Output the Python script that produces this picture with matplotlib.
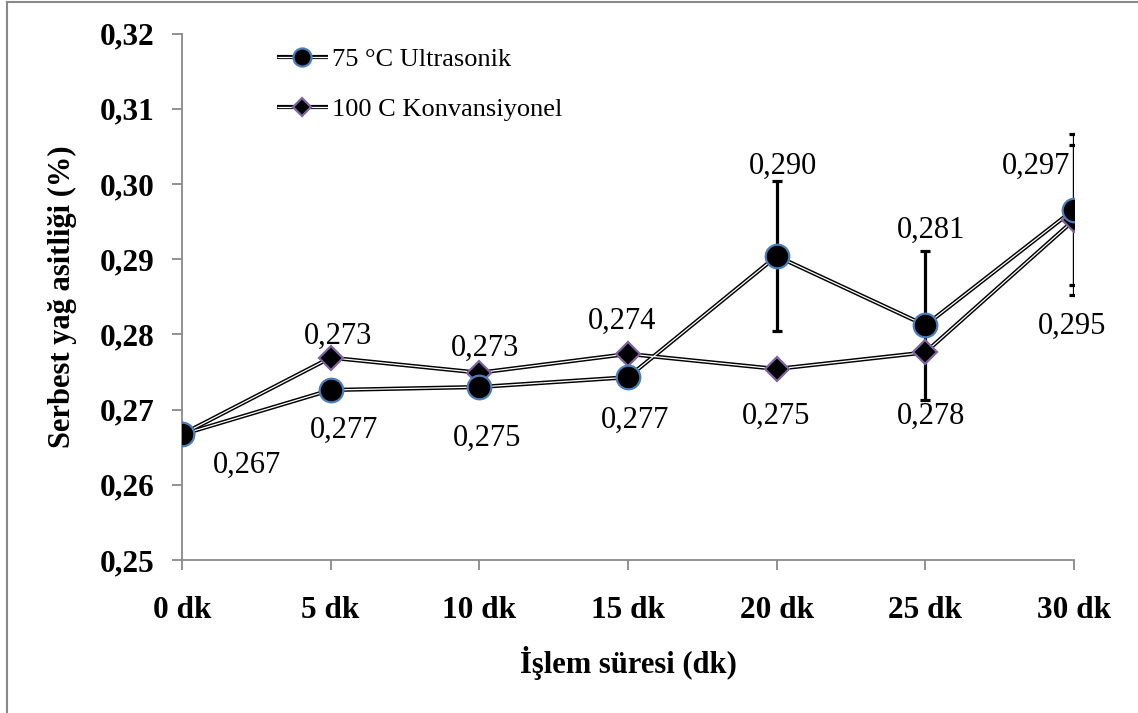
import matplotlib
matplotlib.use('Agg')
import matplotlib.pyplot as plt
from matplotlib.lines import Line2D
from matplotlib.ticker import FuncFormatter, MultipleLocator

plt.rcParams['font.family'] = ['Liberation Serif', 'DejaVu Serif']

# serbest yag asitligi (%) - isleme suresine gore
sureler = ['0 dk', '5 dk', '10 dk', '15 dk', '20 dk', '25 dk', '30 dk']
ultrasonik = [0.2667, 0.2726, 0.2730, 0.2743, 0.2904, 0.2812, 0.2966]
konvansiyonel = [0.2667, 0.2769, 0.2749, 0.2774, 0.2754, 0.2776, 0.2952]
ultrasonik_hata = [0, 0, 0, 0, 0.0100, 0.0099, 0.0100]
konvansiyonel_hata = [0, 0, 0, 0, 0, 0, 0.0100]

# etiket kaydirmalari (piksel)
ust_kayma = [(65, -31), (7, 54), (6, 39), (-6, 56), (6, 90), (6, 95), (-38, 43)]
alt_kayma = [None, (13, -73), (8, -66), (7, -66), (-1, -47), (6, -64), (-2, -106)]

MAVI = '#4A7EBB'
MOR = '#8064A2'
GRI = '#898989'

fig = plt.figure(figsize=(11.38, 7.13), dpi=100)
W, H = 1138, 713
ax = fig.add_axes([182 / W, 1 - 560 / H, (1074 - 182) / W, (560 - 33.5) / H])
x = list(range(len(sureler)))


def seri_ciz(vals, hata, marker, ms, mec):
    idx = [i for i, e in enumerate(hata) if e > 0]
    if idx:
        ax.errorbar(idx, [vals[i] for i in idx], yerr=[hata[i] for i in idx],
                    fmt='none', ecolor='k', elinewidth=2.3, capsize=3.6,
                    capthick=2.3, zorder=2)
    ax.plot(x, vals, color='k', lw=3.0, zorder=3, solid_capstyle='butt')
    ax.plot(x, vals, color='w', lw=0.9, zorder=4, solid_capstyle='butt')
    ax.plot(x, vals, ls='none', marker=marker, ms=ms, mfc='k', mec=mec,
            mew=1.6, zorder=5)


seri_ciz(konvansiyonel, konvansiyonel_hata, 'D', 12, MOR)
seri_ciz(ultrasonik, ultrasonik_hata, 'o', 17, MAVI)


def etiket(v):
    return f'{v:.3f}'.replace('.', ',')


for i, v in enumerate(ultrasonik):
    ax.annotate(etiket(v), (i, v), xytext=ust_kayma[i], textcoords='offset pixels',
                ha='center', va='center', fontsize=22, zorder=6)
for i, v in enumerate(konvansiyonel):
    if alt_kayma[i] is None:
        continue
    ax.annotate(etiket(v), (i, v), xytext=alt_kayma[i], textcoords='offset pixels',
                ha='center', va='center', fontsize=22, zorder=6)

ax.set_xlim(0, len(sureler) - 1)
ax.set_ylim(0.25, 0.32)
ax.set_xticks(x)
ax.set_xticklabels(sureler, fontsize=22.5, fontweight='bold')
ax.yaxis.set_major_locator(MultipleLocator(0.01))
ax.yaxis.set_major_formatter(FuncFormatter(lambda v, p: f'{v:.2f}'.replace('.', ',')))
for lab in ax.get_yticklabels():
    lab.set_fontsize(22.5)
    lab.set_fontweight('bold')

for s in ['top', 'right']:
    ax.spines[s].set_visible(False)
for s in ['left', 'bottom']:
    ax.spines[s].set_color(GRI)
    ax.spines[s].set_linewidth(1.3)
ax.tick_params(axis='both', direction='out', length=7, width=1.3, color=GRI)
ax.tick_params(axis='y', pad=13, labelsize=22.5)
ax.tick_params(axis='x', pad=19, labelsize=22.5)

ax.set_xlabel('İşlem süresi (dk)', fontsize=22, fontweight='bold', labelpad=15)
ax.set_ylabel('Serbest yağ asitliği (%)', fontsize=22, fontweight='bold', labelpad=16)


class CiftCizgi:
    """Lejant icin cift cizgi + ortada isaretci."""

    def __init__(self, marker, ms, mec):
        self.marker, self.ms, self.mec = marker, ms, mec

    def legend_artist(self, legend, orig_handle, fontsize, handlebox):
        x0, y0 = -handlebox.xdescent, -handlebox.ydescent
        w, h = handlebox.width, handlebox.height
        yc = y0 + h / 2
        tr = handlebox.get_transform()
        dis = Line2D([x0, x0 + w], [yc, yc], color='k', lw=3.0,
                     solid_capstyle='butt', transform=tr)
        ic = Line2D([x0, x0 + w], [yc, yc], color='w', lw=0.9,
                    solid_capstyle='butt', transform=tr)
        isaret = Line2D([x0 + w / 2], [yc], ls='none', marker=self.marker,
                        ms=self.ms, mfc='k', mec=self.mec, mew=1.6, transform=tr)
        for a in (dis, ic, isaret):
            handlebox.add_artist(a)
        return dis


h1 = Line2D([], [], color='k')
h2 = Line2D([], [], color='k')
fig.legend([h1, h2], ['75 °C Ultrasonik', '100 C Konvansiyonel'],
           handler_map={h1: CiftCizgi('o', 13, MAVI), h2: CiftCizgi('D', 9, MOR)},
           loc='center left', bbox_to_anchor=(277 / W, 1 - 84.5 / H),
           bbox_transform=fig.transFigure, frameon=False, fontsize=19,
           handlelength=1.93, handletextpad=0.15, labelspacing=1.0,
           borderpad=0, borderaxespad=0)

# grafik cercevesi
fig.add_artist(Line2D([7 / W, 7 / W], [0, 1 - 2 / H], transform=fig.transFigure,
                      color=GRI, lw=1.5))
fig.add_artist(Line2D([7 / W, 1], [1 - 2 / H, 1 - 2 / H], transform=fig.transFigure,
                      color=GRI, lw=1.5))

fig.savefig('out.png', dpi=100)
